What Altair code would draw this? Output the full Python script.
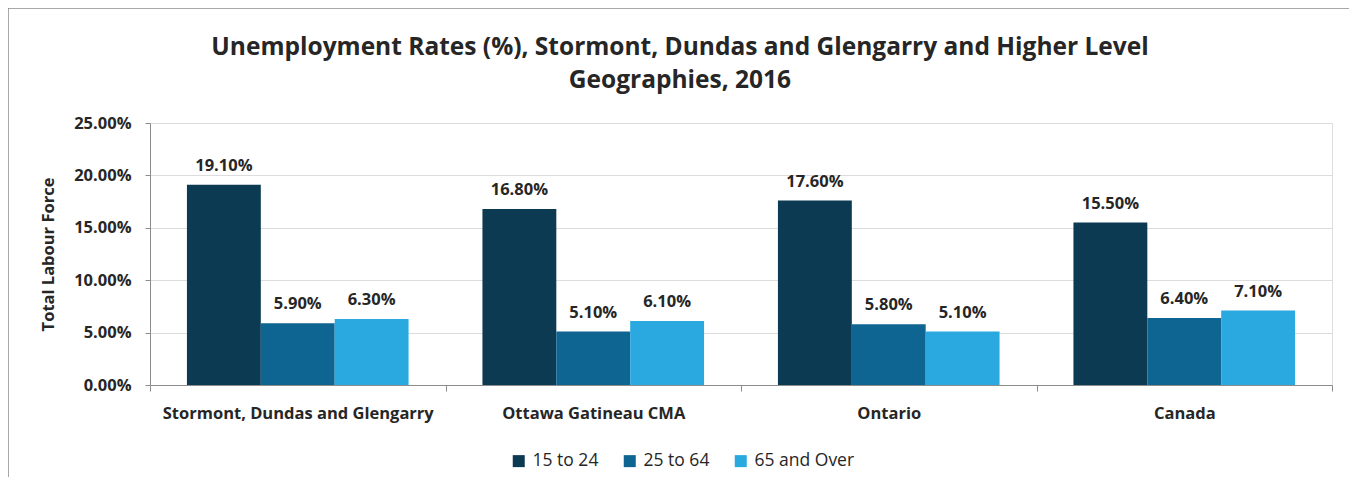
import altair as alt
import pandas as pd

regions = ["Stormont, Dundas and Glengarry", "Ottawa Gatineau CMA", "Ontario", "Canada"]
groups = ["15 to 24", "25 to 64", "65 and Over"]
age_15_24 = [19.10, 16.80, 17.60, 15.50]
age_25_64 = [5.90, 5.10, 5.80, 6.40]
age_65_over = [6.30, 6.10, 5.10, 7.10]
colors = ["#0b3a52", "#0e6592", "#29a9e0"]
title_lines = ["Unemployment Rates (%), Stormont, Dundas and Glengarry and Higher Level",
               "Geographies, 2016"]

rows = []
for i, r in enumerate(regions):
    for g, vals in zip(groups, [age_15_24, age_25_64, age_65_over]):
        rows.append({"region": r, "group": g, "rate": vals[i] / 100})
df = pd.DataFrame(rows)

FONT = "Open Sans"
TXT = "#262626"
FS = 16.5

base = alt.Chart(df).encode(
    x=alt.X("region:N", sort=regions, scale=alt.Scale(paddingInner=0, paddingOuter=0),
            axis=alt.Axis(title=None, labelAngle=0, labelFont=FONT, labelFontSize=FS,
                          labelFontWeight="bold", labelColor=TXT, labelPadding=14,
                          labelLimit=0, tickBand="extent", tickSize=6, tickColor="#8c8c8c",
                          domainColor="#8c8c8c", grid=False)),
    xOffset=alt.XOffset("group:N", sort=groups, scale=alt.Scale(paddingInner=0, paddingOuter=0.5)),
)

bars = base.mark_bar(stroke=None).encode(
    y=alt.Y("rate:Q", scale=alt.Scale(domain=[0, 0.25], nice=False),
            axis=alt.Axis(format=".2%", values=[0, 0.05, 0.10, 0.15, 0.20, 0.25],
                          title="Total Labour Force", titleFont=FONT, titleFontSize=16.5,
                          titleFontWeight="bold", titleColor=TXT, titlePadding=17,
                          labelFont=FONT, labelFontSize=FS, labelFontWeight="bold",
                          labelColor=TXT, labelPadding=14, tickSize=5, tickColor="#8c8c8c",
                          domainColor="#8c8c8c", gridColor="#dcdcdc")),
    color=alt.Color("group:N", sort=groups, scale=alt.Scale(domain=groups, range=colors),
                    legend=alt.Legend(title=None, orient="none", direction="horizontal",
                                      legendX=360, legendY=329, symbolType="square",
                                      symbolSize=144, symbolStrokeWidth=0, labelFont=FONT,
                                      labelFontSize=17.5, labelColor=TXT, columnPadding=22,
                                      labelOffset=5)),
)

labels = base.mark_text(baseline="bottom", dy=-11, font=FONT, fontSize=FS,
                        fontWeight="bold", color=TXT).encode(
    y=alt.Y("rate:Q"),
    text=alt.Text("rate:Q", format=".2%"),
)

frame = alt.Chart(df.head(1)).mark_rect(fill=None, stroke="#8c8c8c", strokeWidth=1.5).encode(
    x=alt.value(-142), x2=alt.value(1203), y=alt.value(-115), y2=alt.value(400)
)

title = alt.Chart(pd.DataFrame({"t": ["\n".join(title_lines)]})).mark_text(
    font=FONT, fontSize=24.5, fontWeight="bold", color=TXT, align="center",
    baseline="middle", lineBreak="\n", lineHeight=33,
).encode(text="t:N", x=alt.value(530), y=alt.value(-75))

chart = alt.layer(frame, bars, labels, title).properties(
    width=1182, height=262,
    autosize=alt.AutoSizeParams(type="none"),
    padding={"left": 142, "top": 115, "right": 17, "bottom": 92},
).configure_view(stroke=None).configure(background="white")

chart.save("out.html", embed_options={"renderer": "svg", "actions": False})
